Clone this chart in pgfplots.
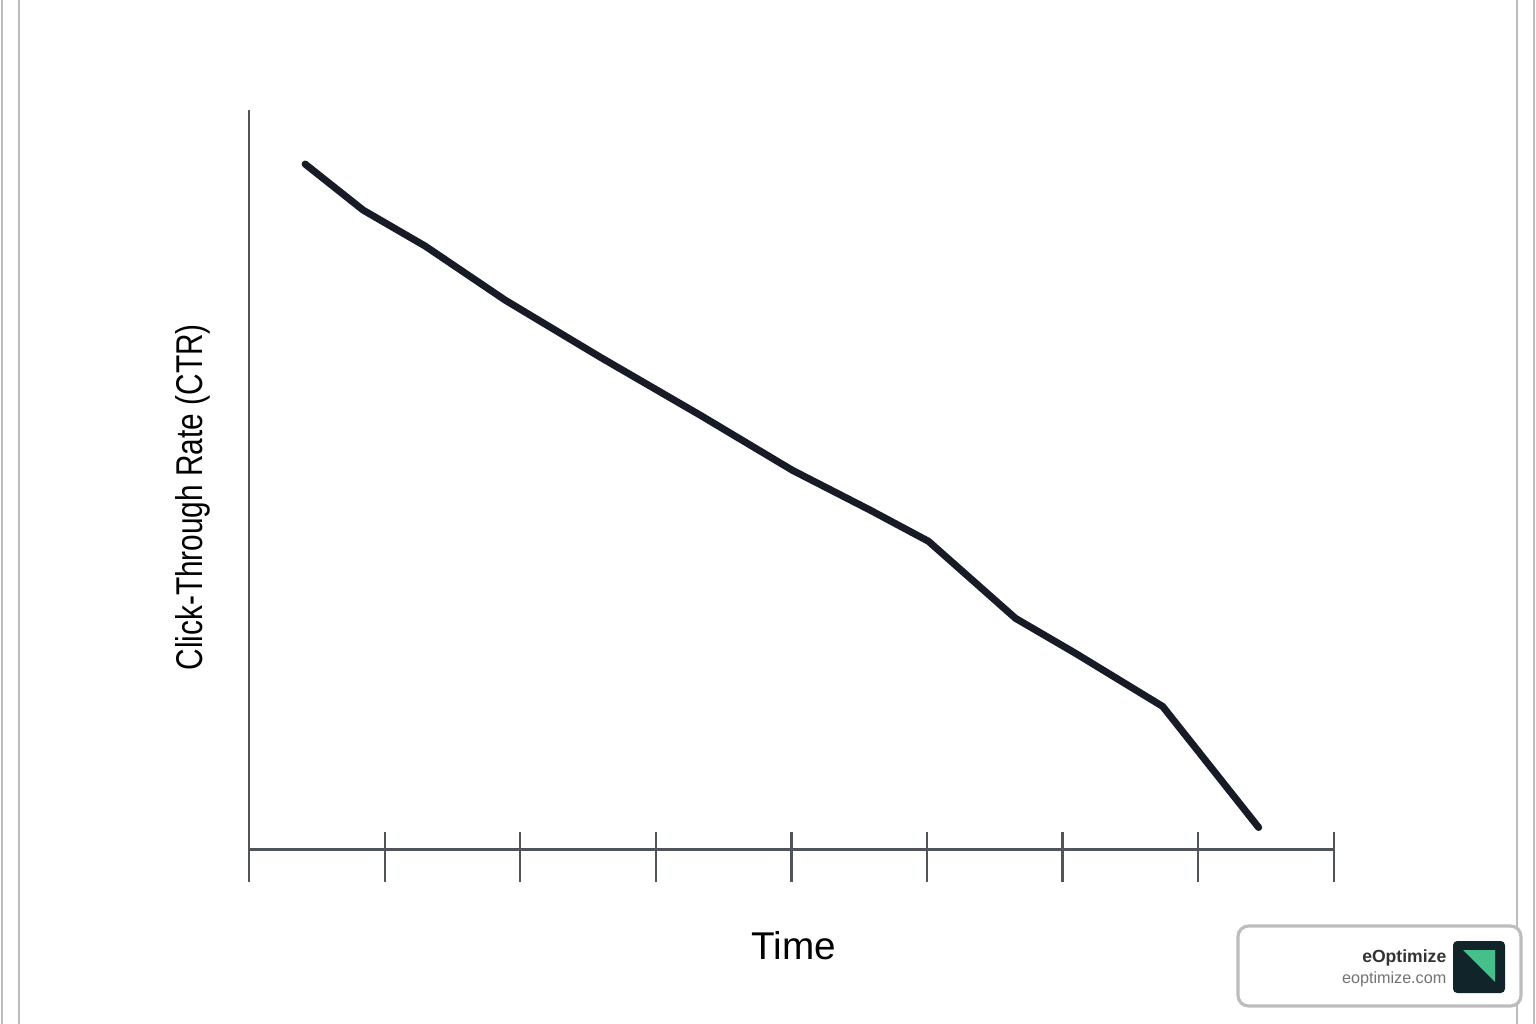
\documentclass[border=0pt]{standalone}
\usepackage{fontspec}
\setmainfont{Liberation Sans}
\usepackage{pgfplots}
\pgfplotsset{compat=1.18}
\usepackage{graphicx}

\definecolor{linenavy}{HTML}{161B26}
\definecolor{axisgrey}{HTML}{50555B}
\definecolor{framegrey}{HTML}{BDBDBD}
\definecolor{logodark}{HTML}{10242A}
\definecolor{logogreen}{HTML}{46C08A}

\begin{document}
\begin{tikzpicture}[x=0.01cm,y=-0.01cm]
% page, pixel units with origin top left
\fill[white] (0,0) rectangle (1536,1024);
\useasboundingbox (0,0) rectangle (1536,1024);
\draw[framegrey, line width=0.7pt] (2,0) -- (2,1024);
\draw[framegrey, line width=0.7pt] (19,0) -- (19,1024);
\draw[framegrey, line width=0.7pt] (1517,0) -- (1517,1024);
\draw[framegrey, line width=0.7pt] (1534,0) -- (1534,1024);

\begin{axis}[
    scale only axis,
    width=10.84cm, height=7.71cm,
    at={(2.49cm,-8.81cm)}, anchor=south west,
    xmin=0, xmax=8, ymin=-0.32, ymax=7.39,
    axis y line=left, axis x line=center,
    xtick=\empty, ytick=\empty,
    axis line style={-, draw=axisgrey, line width=0.65pt},
    every inner x axis line/.append style={-},
    every outer y axis line/.append style={-},
    clip=false,
    xlabel={\fontsize{11}{13}\selectfont Time},
    xlabel style={at={(axis description cs:0.502,-0.083)}, anchor=center},
    ylabel={\fontsize{10.6}{13}\selectfont\scalebox{0.8}[1]{Click-Through Rate (CTR)}},
    ylabel style={at={(axis description cs:-0.0517,0.498)}, anchor=center, rotate=0},
]
\addplot[linenavy, line width=2pt, line join=round, line cap=round, no markers]
coordinates {
    (0.413, 6.85)
    (0.841, 6.39)
    (1.299, 6.03)
    (1.889, 5.49)
    (2.590, 4.92)
    (3.328, 4.34)
    (4.007, 3.79)
    (4.583, 3.39)
    (5.011, 3.08)
    (5.653, 2.31)
    (6.096, 1.96)
    (6.738, 1.43)
    (7.446, 0.22)
};
\pgfplotsinvokeforeach{1,...,8}{
    \draw[axisgrey, line width=0.65pt] (axis cs:#1,0.17) -- (axis cs:#1,-0.32);
}
\end{axis}

% logo box
\draw[framegrey, line width=0.9pt, fill=white, rounded corners=3pt] (1238,926) rectangle (1521,1006);
\node[anchor=base east, inner sep=0pt, text=black!80] at (1447,962)
    {\fontsize{5}{6}\selectfont\bfseries eOptimize};
\node[anchor=base east, inner sep=0pt, text=black!55] at (1447,983)
    {\fontsize{4.6}{6}\selectfont eoptimize.com};
\fill[logodark, rounded corners=1.2pt] (1453,941) rectangle (1505,993);
\fill[logogreen] (1463,950) -- (1495,950) -- (1495,982) -- cycle;
\end{tikzpicture}
\end{document}
